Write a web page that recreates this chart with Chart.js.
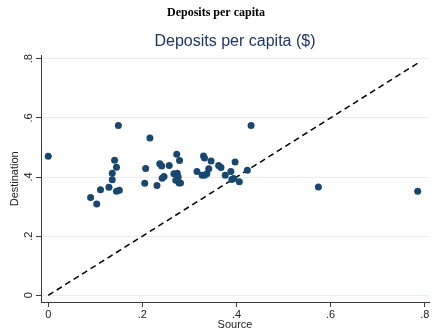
<!DOCTYPE html>
<html>
<head>
<meta charset="utf-8">
<title>Deposits per capita</title>
<script src="https://cdn.jsdelivr.net/npm/chart.js@4/dist/chart.umd.min.js"></script>
<style>
  html, body { margin: 0; padding: 0; background: #fff; }
</style>
</head>
<body>
<canvas id="chartScatter" width="433" height="332"></canvas>
<script>
// one dot per pair: source share (x) vs destination share (y)
const sourceValues = [
  0, 0.090, 0.103, 0.111, 0.129, 0.136, 0.136, 0.141, 0.145, 0.145,
  0.151, 0.149, 0.205, 0.207, 0.216, 0.231, 0.237, 0.241, 0.246, 0.242,
  0.257, 0.267, 0.274, 0.276, 0.271, 0.278, 0.281, 0.273, 0.279, 0.316,
  0.327, 0.332, 0.337, 0.341, 0.330, 0.332, 0.346, 0.362, 0.367, 0.376,
  0.388, 0.397, 0.390, 0.394, 0.406, 0.423, 0.431, 0.574, 0.785,
];
const destinationValues = [
  0.470, 0.331, 0.309, 0.357, 0.365, 0.391, 0.413, 0.457, 0.433, 0.352,
  0.355, 0.574, 0.379, 0.429, 0.532, 0.371, 0.445, 0.437, 0.402, 0.396,
  0.439, 0.411, 0.413, 0.400, 0.389, 0.380, 0.380, 0.477, 0.456, 0.419,
  0.406, 0.406, 0.411, 0.428, 0.471, 0.464, 0.454, 0.439, 0.432, 0.406,
  0.419, 0.451, 0.392, 0.395, 0.384, 0.423, 0.574, 0.366, 0.352,
];
// 45 degree line, from 0 to the largest source value
const diagonalEnds = [0, 0.785];
const tickValues = [0, 0.2, 0.4, 0.6, 0.8];
const tickLabels = ["0", ".2", ".4", ".6", ".8"];

const axisColor = "#3c3c3c";
const gridColor = "#e6eef0";
const labelFont = { family: "Liberation Sans, Arial, sans-serif", size: 11 };

const points = sourceValues.map((x, i) => ({ x: x, y: destinationValues[i] }));
const diagonal = diagonalEnds.map((v) => ({ x: v, y: v }));

const setTicks = (scale) => {
  scale.ticks = tickValues.map((v) => ({ value: v }));
};

new Chart(document.getElementById("chartScatter"), {
  type: "scatter",
  data: {
    datasets: [
      {
        label: "Deposits",
        data: points,
        backgroundColor: "#1a476f",
        borderColor: "#1a476f",
        borderWidth: 0,
        pointRadius: 3.5,
        order: 1,
      },
      {
        type: "line",
        label: "45 degree",
        data: diagonal,
        borderColor: "#000",
        borderWidth: 1.5,
        borderDash: [6, 4],
        pointRadius: 0,
        fill: false,
        order: 2,
      },
    ],
  },
  options: {
    responsive: false,
    animation: false,
    layout: { padding: { left: 0, right: 1, top: 0, bottom: 0 } },
    scales: {
      x: {
        type: "linear",
        position: "bottom",
        min: -0.0154,
        max: 0.809,
        afterBuildTicks: setTicks,
        afterFit: (scale) => {
          scale.height = 30;
          scale.paddingLeft = 0;
          scale.paddingRight = 0;
        },
        ticks: {
          font: labelFont,
          color: "#222",
          padding: 1,
          maxRotation: 0,
          callback: (value, index) => tickLabels[index],
        },
        grid: {
          drawOnChartArea: false,
          tickColor: axisColor,
          tickLength: 5,
        },
        border: { color: axisColor, width: 1 },
        title: {
          display: true,
          text: "Source",
          font: labelFont,
          color: "#222",
          padding: { top: 0, bottom: 0 },
        },
      },
      y: {
        type: "linear",
        min: -0.0226,
        max: 0.8105,
        afterBuildTicks: setTicks,
        afterFit: (scale) => {
          scale.width = 41;
          scale.paddingTop = 0;
          scale.paddingBottom = 0;
        },
        ticks: {
          font: labelFont,
          color: "#222",
          padding: 2,
          minRotation: 90,
          maxRotation: 90,
          crossAlign: "center",
          callback: (value, index) => tickLabels[index],
        },
        grid: {
          color: gridColor,
          tickColor: axisColor,
          tickLength: 5,
        },
        border: { color: axisColor, width: 1 },
        title: {
          display: true,
          text: "Destination",
          font: labelFont,
          color: "#222",
          padding: { top: 8, bottom: 0 },
        },
      },
    },
    plugins: {
      legend: { display: false },
      tooltip: { enabled: false },
      title: {
        display: true,
        text: "Deposits per capita",
        font: { family: "Liberation Serif, Times New Roman, serif", size: 12, weight: "bold" },
        color: "#000",
        padding: { top: 6, bottom: 3 },
      },
      subtitle: {
        display: true,
        text: "Deposits per capita ($)",
        fullSize: false,
        font: { family: "Liberation Sans, Arial, sans-serif", size: 16 },
        color: "#1c3765",
        padding: { top: 9, bottom: 4 },
      },
    },
  },
});
</script>
</body>
</html>
